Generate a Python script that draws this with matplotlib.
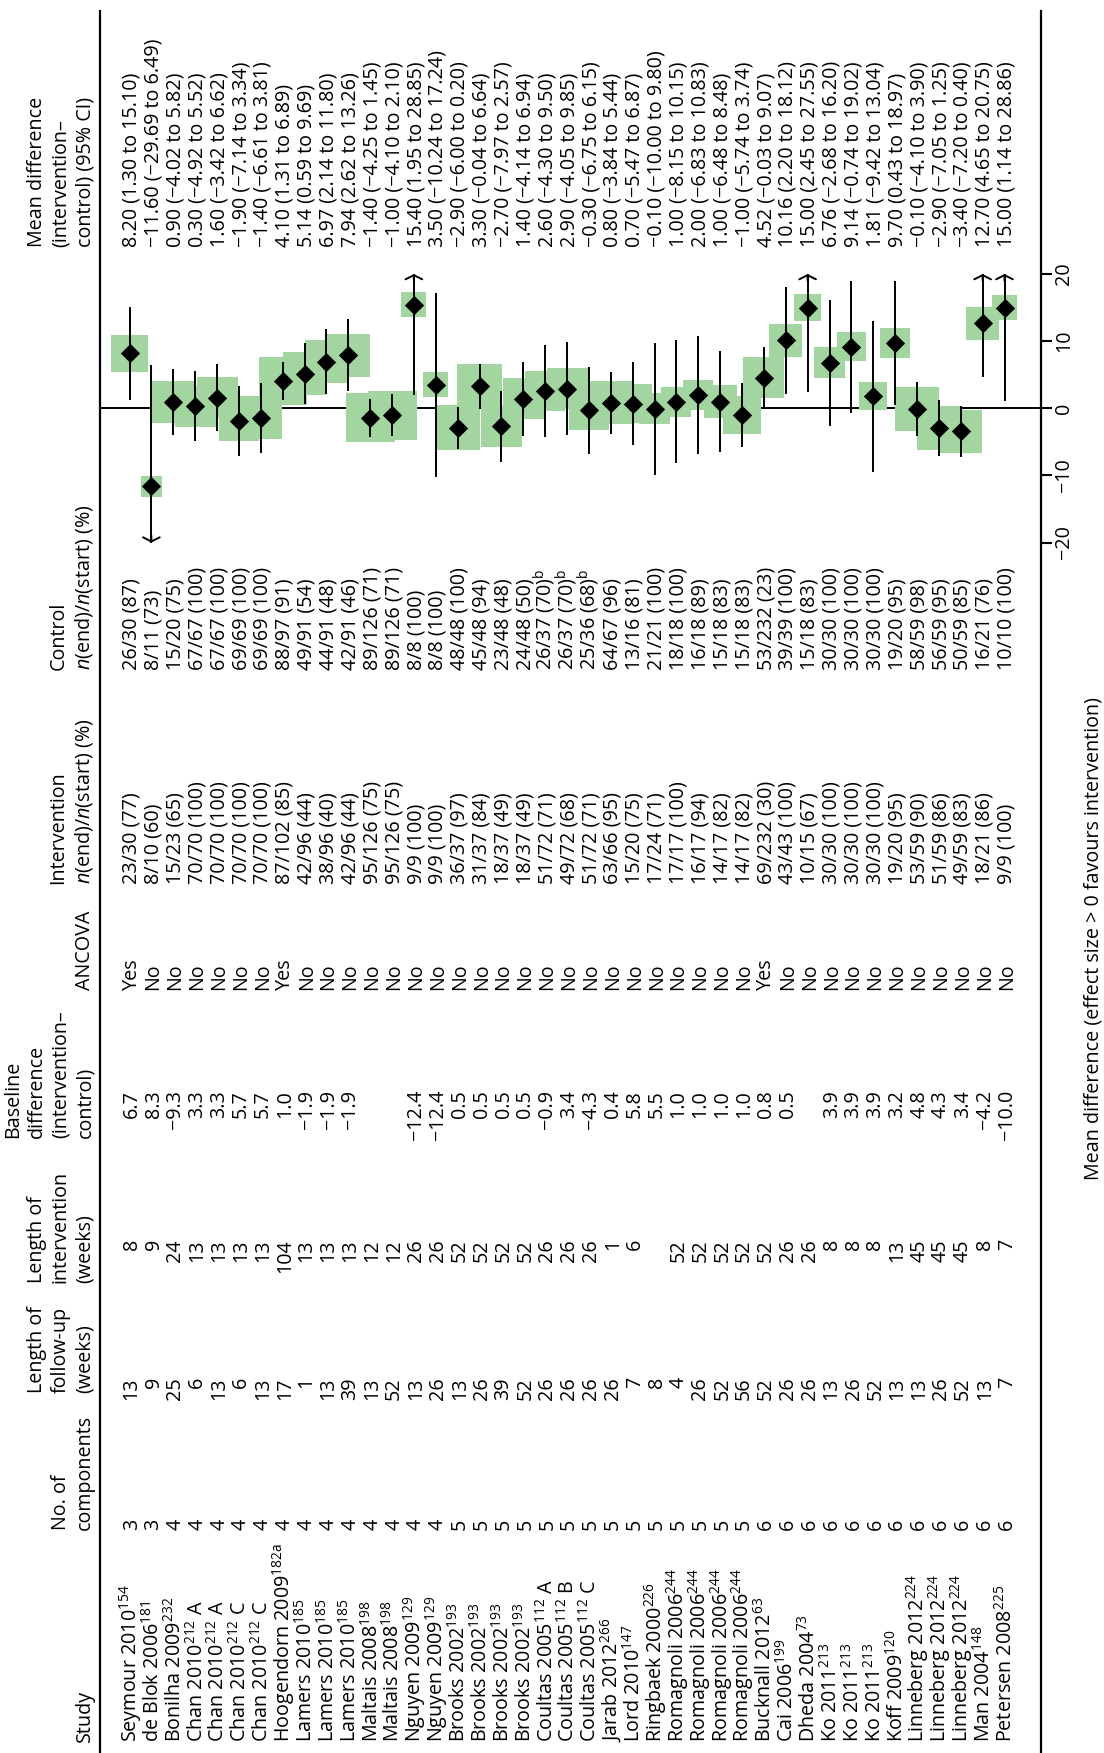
import matplotlib
matplotlib.use('Agg')
import matplotlib.pyplot as plt
import matplotlib.transforms as mtransforms
import numpy as np

W, H, DPI = 1104, 1753, 100

plt.rcParams['font.family'] = ['Open Sans', 'DejaVu Sans']
plt.rcParams['mathtext.fontset'] = 'custom'
plt.rcParams['mathtext.rm'] = 'Open Sans'
plt.rcParams['mathtext.it'] = 'Open Sans:italic'
plt.rcParams['mathtext.default'] = 'regular'
plt.rcParams['axes.unicode_minus'] = True

# ---------------- data ----------------
study_names = ["Seymour 2010", "de Blok 2006", "Bonilha 2009", "Chan 2010", "Chan 2010",
               "Chan 2010", "Chan 2010", "Hoogendorn 2009", "Lamers 2010", "Lamers 2010",
               "Lamers 2010", "Maltais 2008", "Maltais 2008", "Nguyen 2009", "Nguyen 2009",
               "Brooks 2002", "Brooks 2002", "Brooks 2002", "Brooks 2002", "Coultas 2005",
               "Coultas 2005", "Coultas 2005", "Jarab 2012", "Lord 2010", "Ringbaek 2000",
               "Romagnoli 2006", "Romagnoli 2006", "Romagnoli 2006", "Romagnoli 2006",
               "Bucknall 2012", "Cai 2006", "Dheda 2004", "Ko 2011", "Ko 2011", "Ko 2011",
               "Koff 2009", "Linneberg 2012", "Linneberg 2012", "Linneberg 2012", "Man 2004",
               "Petersen 2008"]
study_refs = ["154", "181", "232", "212", "212", "212", "212", "182a", "185", "185", "185",
              "198", "198", "129", "129", "193", "193", "193", "193", "112", "112", "112",
              "266", "147", "226", "244", "244", "244", "244", "63", "199", "73", "213", "213",
              "213", "120", "224", "224", "224", "148", "225"]
study_arms = ["", "", "", "A", "A", "C", "C", "", "", "", "", "", "", "", "", "", "", "", "",
              "A", "B", "C", "", "", "", "", "", "", "", "", "", "", "", "", "", "", "", "", "",
              "", ""]
n_components = [3, 3, 4, 4, 4, 4, 4, 4, 4, 4, 4, 4, 4, 4, 4, 5, 5, 5, 5, 5, 5, 5, 5, 5, 5,
                5, 5, 5, 5, 6, 6, 6, 6, 6, 6, 6, 6, 6, 6, 6, 6]
followup_weeks = [13, 9, 25, 6, 13, 6, 13, 17, 1, 13, 39, 13, 52, 13, 26, 13, 26, 39, 52, 26,
                  26, 26, 26, 7, 8, 4, 26, 52, 56, 52, 26, 26, 13, 26, 52, 13, 13, 26, 52, 13, 7]
intervention_weeks = ["8", "9", "24", "13", "13", "13", "13", "104", "13", "13", "13", "12",
                      "12", "26", "26", "52", "52", "52", "52", "26", "26", "26", "1", "6", "",
                      "52", "52", "52", "52", "52", "26", "26", "8", "8", "8", "13", "45", "45",
                      "45", "8", "7"]
baseline_diff = ["6.7", "8.3", "−9.3", "3.3", "3.3", "5.7", "5.7", "1.0", "−1.9", "−1.9",
                 "−1.9", "", "", "−12.4", "−12.4", "0.5", "0.5", "0.5", "0.5", "−0.9", "3.4",
                 "−4.3", "0.4", "5.8", "5.5", "1.0", "1.0", "1.0", "1.0", "0.8", "0.5", "",
                 "3.9", "3.9", "3.9", "3.2", "4.8", "4.3", "3.4", "−4.2", "−10.0"]
ancova = ["Yes", "No", "No", "No", "No", "No", "No", "Yes", "No", "No", "No", "No", "No",
          "No", "No", "No", "No", "No", "No", "No", "No", "No", "No", "No", "No", "No", "No",
          "No", "No", "Yes", "No", "No", "No", "No", "No", "No", "No", "No", "No", "No", "No"]
intervention_n = ["23/30 (77)", "8/10 (60)", "15/23 (65)", "70/70 (100)", "70/70 (100)",
                  "70/70 (100)", "70/70 (100)", "87/102 (85)", "42/96 (44)", "38/96 (40)",
                  "42/96 (44)", "95/126 (75)", "95/126 (75)", "9/9 (100)", "9/9 (100)",
                  "36/37 (97)", "31/37 (84)", "18/37 (49)", "18/37 (49)", "51/72 (71)",
                  "49/72 (68)", "51/72 (71)", "63/66 (95)", "15/20 (75)", "17/24 (71)",
                  "17/17 (100)", "16/17 (94)", "14/17 (82)", "14/17 (82)", "69/232 (30)",
                  "43/43 (100)", "10/15 (67)", "30/30 (100)", "30/30 (100)", "30/30 (100)",
                  "19/20 (95)", "53/59 (90)", "51/59 (86)", "49/59 (83)", "18/21 (86)",
                  "9/9 (100)"]
control_n = ["26/30 (87)", "8/11 (73)", "15/20 (75)", "67/67 (100)", "67/67 (100)",
             "69/69 (100)", "69/69 (100)", "88/97 (91)", "49/91 (54)", "44/91 (48)",
             "42/91 (46)", "89/126 (71)", "89/126 (71)", "8/8 (100)", "8/8 (100)",
             "48/48 (100)", "45/48 (94)", "23/48 (48)", "24/48 (50)", "26/37 (70)$^{b}$",
             "26/37 (70)$^{b}$", "25/36 (68)$^{b}$", "64/67 (96)", "13/16 (81)", "21/21 (100)",
             "18/18 (100)", "16/18 (89)", "15/18 (83)", "15/18 (83)", "53/232 (23)",
             "39/39 (100)", "15/18 (83)", "30/30 (100)", "30/30 (100)", "30/30 (100)",
             "19/20 (95)", "58/59 (98)", "56/59 (95)", "50/59 (85)", "16/21 (76)",
             "10/10 (100)"]
mean_diff = [8.20, -11.60, 0.90, 0.30, 1.60, -1.90, -1.40, 4.10, 5.14, 6.97, 7.94, -1.40,
             -1.00, 15.40, 3.50, -2.90, 3.30, -2.70, 1.40, 2.60, 2.90, -0.30, 0.80, 0.70,
             -0.10, 1.00, 2.00, 1.00, -1.00, 4.52, 10.16, 15.00, 6.76, 9.14, 1.81, 9.70,
             -0.10, -2.90, -3.40, 12.70, 15.00]
ci_low = [1.30, -29.69, -4.02, -4.92, -3.42, -7.14, -6.61, 1.31, 0.59, 2.14, 2.62, -4.25,
          -4.10, 1.95, -10.24, -6.00, -0.04, -7.97, -4.14, -4.30, -4.05, -6.75, -3.84, -5.47,
          -10.00, -8.15, -6.83, -6.48, -5.74, -0.03, 2.20, 2.45, -2.68, -0.74, -9.42, 0.43,
          -4.10, -7.05, -7.20, 4.65, 1.14]
ci_high = [15.10, 6.49, 5.82, 5.52, 6.62, 3.34, 3.81, 6.89, 9.69, 11.80, 13.26, 1.45, 2.10,
           28.85, 17.24, 0.20, 6.64, 2.57, 6.94, 9.50, 9.85, 6.15, 5.44, 6.87, 9.80, 10.15,
           10.83, 8.48, 3.74, 9.07, 18.12, 27.55, 16.20, 19.02, 13.04, 18.97, 3.90, 1.25,
           0.40, 20.75, 28.86]
# relative study weight (drawn as box size)
weight = [37, 21, 42, 41, 41, 40, 43, 48, 43, 43, 43, 49, 49, 25, 25, 45, 45, 41, 41, 40,
          41, 40, 43, 39, 31, 30, 30, 33, 38, 41, 33, 27, 31, 29, 28, 30, 44, 44, 43, 33, 25]
x_ticks = [-20, -10, 0, 10, 20]

headers = ["Study", "No. of\ncomponents", "Length of\nfollow-up\n(weeks)",
           "Length of\nintervention\n(weeks)", "Baseline\ndifference\n(intervention–\ncontrol)",
           "ANCOVA", "Intervention\n$\\mathit{n}$(end)/$\\mathit{n}$(start) (%)",
           "Control\n$\\mathit{n}$(end)/$\\mathit{n}$(start) (%)",
           "Mean difference\n(intervention–\ncontrol) (95% CI)"]
axis_label = "Mean difference (effect size > 0 favours intervention)"

# ---------------- styling / layout ----------------
FS = 14.2
GREEN = '#a2d5a0'
LS = 1.27
ROW0, ROWSTEP = 129.5, 21.875          # pixel position of first row and row pitch
ZERO_PX, PX_PER_UNIT = 408.3, 6.7125   # pixel position of 0 and scale of the effect axis
TOP_PX = 11

def minus(s):
    return s.replace('-', '−')

n = len(mean_diff)
rows = np.arange(n)

fig = plt.figure(figsize=(W / DPI, H / DPI), dpi=DPI)
fig.patch.set_facecolor('white')
ax_left, ax_right = 100 / W, 1041 / W
ax = fig.add_axes([ax_left, 0, ax_right - ax_left, (H - TOP_PX) / H])
ax.set_xlim((100 - ROW0) / ROWSTEP, (1041 - ROW0) / ROWSTEP)
ax.set_ylim((ZERO_PX - H) / PX_PER_UNIT, (ZERO_PX - TOP_PX) / PX_PER_UNIT)
ax.patch.set_alpha(0)

for side in ['top', 'bottom']:
    ax.spines[side].set_visible(False)
for side in ['left', 'right']:
    ax.spines[side].set_linewidth(1.6)
ax.set_xticks([])
ax.set_yticks(x_ticks)
ax.set_yticklabels([minus(str(t)) for t in x_ticks])
ax.tick_params(axis='y', left=False, right=True, labelleft=False, labelright=True,
               direction='out', length=8, width=1.5, pad=1.5, labelsize=FS, labelrotation=90)
for t in ax.get_yticklabels():
    t.set_va('center')
    t.set_ha('left')

# zero line
ax.axhline(0, color='black', lw=1.4, zorder=1)

md = np.array(mean_diff)
lo = np.array(ci_low)
hi = np.array(ci_high)
lim = max(x_ticks)
lo_c = np.clip(lo, -lim, lim)
hi_c = np.clip(hi, -lim, lim)
box_pt = np.array(weight) * 72 / DPI

ax.scatter(rows, md, s=box_pt ** 2, marker='s', color=GREEN, linewidths=0, zorder=2)
ax.vlines(rows, lo_c, hi_c, color='black', lw=1.4, zorder=3)
for i in rows:
    for bound, clipped in ((hi[i], hi_c[i]), (lo[i], lo_c[i])):
        if bound != clipped:
            ax.annotate('', xy=(i, clipped), xytext=(i, clipped - np.sign(clipped)),
                        arrowprops=dict(arrowstyle='->,head_length=0.3,head_width=0.6',
                                        lw=1.4, color='black', shrinkA=0, shrinkB=0,
                                        mutation_scale=10), zorder=3)
ax.scatter(rows, md, s=9.8 ** 2, marker='D', color='black', linewidths=0, zorder=4)

# ---------------- table text ----------------
tr = mtransforms.blended_transform_factory(ax.transData, fig.transFigure)
BASE_OFF = 0.33

def fy(ypx):
    return 1 - ypx / H

def col_text(values, ypx, align, fs=FS):
    for i, s in enumerate(values):
        if s == '':
            continue
        ax.text(i + BASE_OFF, fy(ypx), s, transform=tr, rotation=90, rotation_mode='anchor',
                ha=align, va='baseline', fontsize=fs, clip_on=False)

study_labels = [f"{nm}$^{{{rf}}}$" + (f" {arm}" if arm else "")
                for nm, rf, arm in zip(study_names, study_refs, study_arms)]
md_text = [minus(f"{m:.2f} ({a:.2f} to {b:.2f})") for m, a, b in zip(mean_diff, ci_low, ci_high)]

col_text(study_labels, 1742, 'left')
col_text([str(v) for v in n_components], 1530, 'left')
col_text([str(v) for v in followup_weeks], 1377, 'right')
col_text(intervention_weeks, 1239, 'right')
col_text(baseline_diff, 1090, 'right')
col_text(ancova, 990, 'left')
col_text(intervention_n, 884, 'left')
col_text(control_n, 670, 'left')
col_text(md_text, 247, 'left')

header_bottoms = [1742, 1530, 1393, 1283, 1138, 990, 884, 670, 247]
for txt, ypx in zip(headers, header_bottoms):
    fig.text(95 / W, fy(ypx), txt, rotation=90, rotation_mode='anchor', ha='left',
             va='bottom', fontsize=FS, linespacing=LS, multialignment='left')

fig.text(1094 / W, fy(938), axis_label, rotation=90, ha='center', va='center', fontsize=FS)

fig.savefig('out.png', dpi=DPI, facecolor='white')
